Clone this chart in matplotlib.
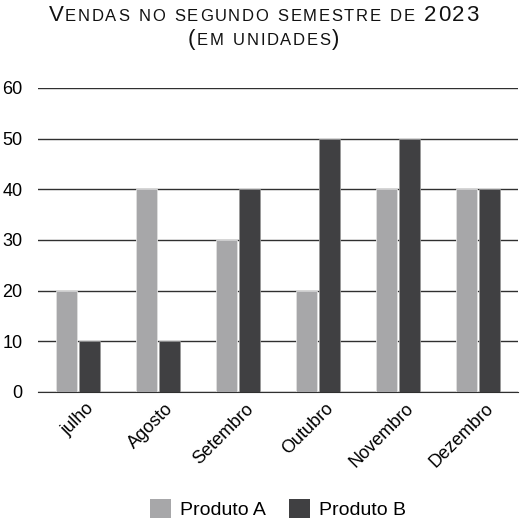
import matplotlib.pyplot as plt
import matplotlib.transforms as mtransforms
import numpy as np
from matplotlib.patches import Patch

plt.rcParams['font.family'] = ['Liberation Sans', 'DejaVu Sans']

meses = ['julho', 'Agosto', 'Setembro', 'Outubro', 'Novembro', 'Dezembro']
produto_a = [20, 40, 30, 20, 40, 40]
produto_b = [10, 10, 40, 50, 50, 40]
yticks = [0, 10, 20, 30, 40, 50, 60]

cor_a = '#a7a7a9'
cor_b = '#404042'

W, H = 527, 526
fig = plt.figure(figsize=(W / 100, H / 100), dpi=100)
ax = fig.add_axes([38 / W, 1 - 392 / H, 480 / W, (392 - 88) / H])

x = np.arange(len(meses))
w = 0.265
ax.bar(x - 0.148, produto_a, w, color=cor_a, edgecolor='#e0e0e0', linewidth=0.6, zorder=3)
ax.bar(x + 0.148, produto_b, w, color=cor_b, edgecolor='#9a9a9a', linewidth=0.6, zorder=3)

ax.set_xlim(-0.5, len(meses) - 0.5)
ax.set_ylim(0, 60)
ax.set_yticks(yticks)
ax.set_yticklabels([str(v) for v in yticks], fontsize=13)
ax.yaxis.grid(True, color='#303030', linewidth=1.0, zorder=0)
ax.set_axisbelow(True)
for s in ['left', 'right', 'top']:
    ax.spines[s].set_visible(False)
ax.spines['bottom'].set_color('#303030')
ax.tick_params(axis='y', length=0, pad=11)
ax.tick_params(axis='x', length=0, pad=6)
ax.set_xticks(x)
ax.set_xticklabels(meses, rotation=45, ha='right', rotation_mode='anchor', fontsize=13)
desloc = mtransforms.ScaledTranslation(5 / 72, 0, fig.dpi_scale_trans)
for lab in ax.get_xticklabels():
    lab.set_transform(lab.get_transform() + desloc)

# titulo em versalete, letras um pouco espacadas (a fonte original e mais larga)
renderer = fig.canvas.get_renderer()
linhas = [
    (21, [('V', 16.0), ('ENDAS NO SEGUNDO SEMESTRE DE ', 12.0), ('2023', 16.0)]),
    (45, [('(', 16.0), ('EM UNIDADES', 12.0), (')', 16.0)]),
]
largura_alvo = 430
tracking = None
for ybase, partes in linhas:
    chars = []
    for txt, size in partes:
        for c in txt:
            if c == ' ':
                chars.append((None, 0.278 * size * 100 / 72 * 1.3))
            else:
                t = fig.text(0, 1 - ybase / H, c, fontsize=size, va='baseline', color='#111111')
                chars.append((t, t.get_window_extent(renderer).width))
    soma = sum(cw for _, cw in chars)
    if tracking is None:
        tracking = (largura_alvo - soma) / (len(chars) - 1)
    total = soma + tracking * (len(chars) - 1)
    x0 = (W - total) / 2
    for t, cw in chars:
        if t is not None:
            t.set_x(x0 / W)
        x0 += cw + tracking

handles = [Patch(facecolor=cor_a, label='Produto A'), Patch(facecolor=cor_b, label='Produto B')]
fig.legend(handles=handles, loc='center', bbox_to_anchor=(0.528, 1 - 509 / H), ncol=2,
           frameon=False, fontsize=14, handlelength=1.08, handleheight=1.08,
           handletextpad=0.46, columnspacing=1.2, borderpad=0)

fig.savefig('out.png', dpi=100)
